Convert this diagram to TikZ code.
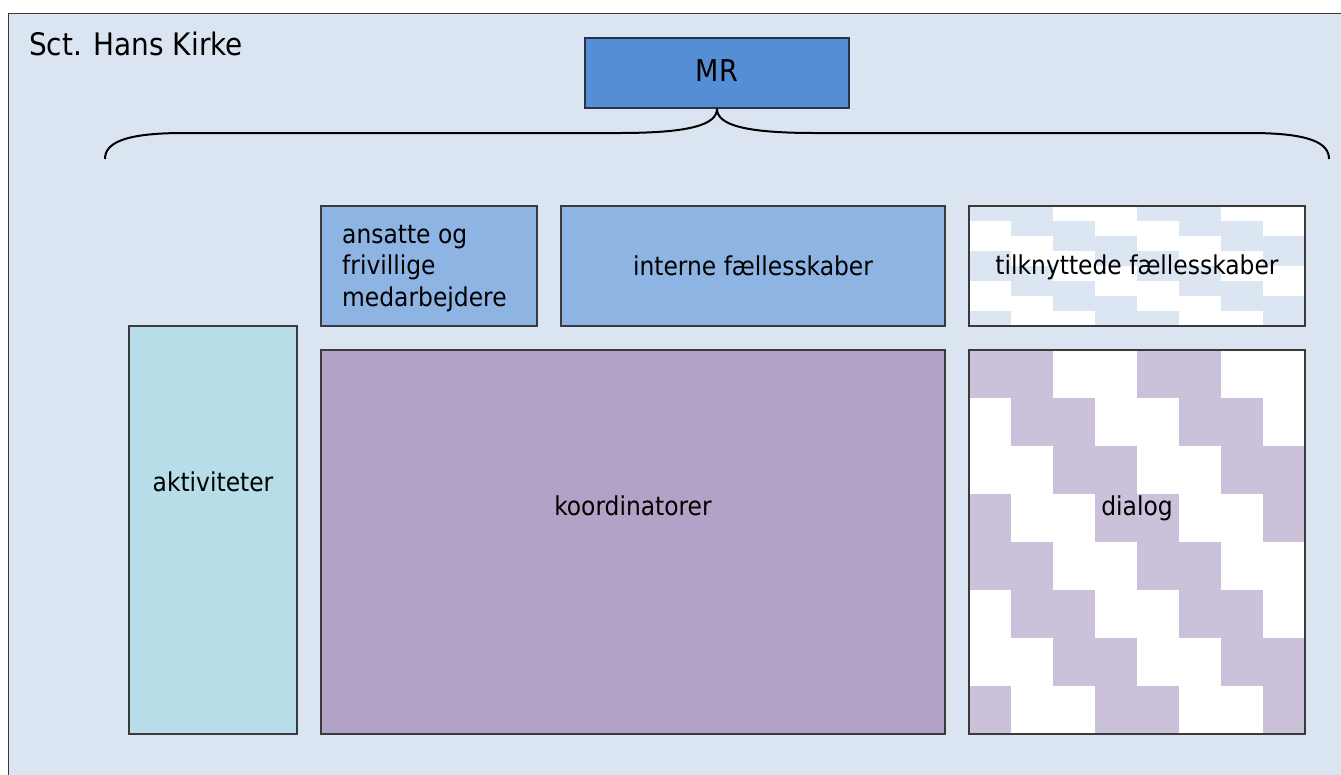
\documentclass[tikz,border=0pt]{standalone}
\usepackage{fontspec}
\setmainfont{DejaVu Sans Condensed}
\definecolor{bgblue}{HTML}{DBE5F1}
\definecolor{patblue}{HTML}{DCE6F2}
\definecolor{mrblue}{HTML}{558ED5}
\definecolor{lightblue}{HTML}{8EB4E3}
\definecolor{aqua}{HTML}{B7DEE8}
\definecolor{koord}{HTML}{B3A2C7}
\definecolor{lilac}{HTML}{CCC1DA}
\definecolor{bordergray}{HTML}{3A3A3A}
\definecolor{mrborder}{HTML}{26344F}
\begin{document}
\begin{tikzpicture}[x=1pt,y=-1pt,
  box/.style={draw=bordergray, line width=1.4pt, inner sep=0pt, rectangle},
  lbl/.style={inner sep=0pt, anchor=base, font=\fontsize{26}{31.5}\selectfont},
  brace/.style={draw=black, line width=2pt}]
\useasboundingbox (0,0) rectangle (1341,774);
\clip (0,0) rectangle (1341,774);
\fill[white] (0,0) rectangle (1341,774);
\draw[fill=bgblue, draw=bordergray, line width=1.8pt] (8.5,13.5) rectangle (1400,820);
\node[inner sep=0pt, anchor=base west, font=\fontsize{31}{37}\selectfont] (title) at (29,55) {Sct. Hans Kirke};
% MR
\node[box, draw=mrborder, fill=mrblue, minimum width=264, minimum height=70] (mr) at (717,73) {};
\node[lbl, font=\fontsize{30}{36}\selectfont] (mrlbl) at (717,81) {MR};
% brace
\coordinate (bl) at (105,159);
\coordinate (br) at (1329,159);
\draw[brace] (bl) .. controls (105,143) and (124,133) .. (184,133) -- (619,133) .. controls (689,133) and (717,125) .. (mr.south);
\draw[brace] (mr.south) .. controls (717,125) and (745,133) .. (815,133) -- (1250,133) .. controls (1310,133) and (1329,143) .. (br);
% top row
\node[box, fill=lightblue, minimum width=216, minimum height=120] (ansatte) at (429,266) {};
\node[inner sep=0pt, anchor=base west, align=left, font=\fontsize{26}{31.5}\selectfont] (ansattelbl) at (342,306) {ansatte og\\frivillige\\medarbejdere};
\node[box, fill=lightblue, minimum width=384, minimum height=120] (interne) at (753,266) {};
\node[lbl] (internelbl) at (753,275) {interne fællesskaber};
% tilknyttede pattern
\fill[white] (969,206) rectangle (1305,326);
\foreach \r in {0,...,7}{\foreach \c in {0,...,7}{
  \pgfmathtruncatemacro{\m}{mod(\c-\r+8,4)}
  \ifnum\m<2 \fill[patblue] ({969+42*\c},{206+15*\r}) rectangle ++(42,15); \fi
}}
\node[box, minimum width=336, minimum height=120] (tilk) at (1137,266) {};
\node[lbl] (tilklbl) at (1137,274) {tilknyttede fællesskaber};
% bottom row
\node[box, fill=aqua, minimum width=168, minimum height=408] (akt) at (213,530) {};
\node[lbl] (aktlbl) at (213,491) {aktiviteter};
\node[box, fill=koord, minimum width=624, minimum height=384] (koord) at (633,542) {};
\node[lbl] (koordlbl) at (633,515) {koordinatorer};
\fill[white] (969,350) rectangle (1305,734);
\foreach \r in {0,...,7}{\foreach \c in {0,...,7}{
  \pgfmathtruncatemacro{\m}{mod(\c-\r+8,4)}
  \ifnum\m<2 \fill[lilac] ({969+42*\c},{350+48*\r}) rectangle ++(42,48); \fi
}}
\node[box, minimum width=336, minimum height=384] (dialog) at (1137,542) {};
\node[lbl] (dialoglbl) at (1137,515) {dialog};
\end{tikzpicture}
\end{document}
